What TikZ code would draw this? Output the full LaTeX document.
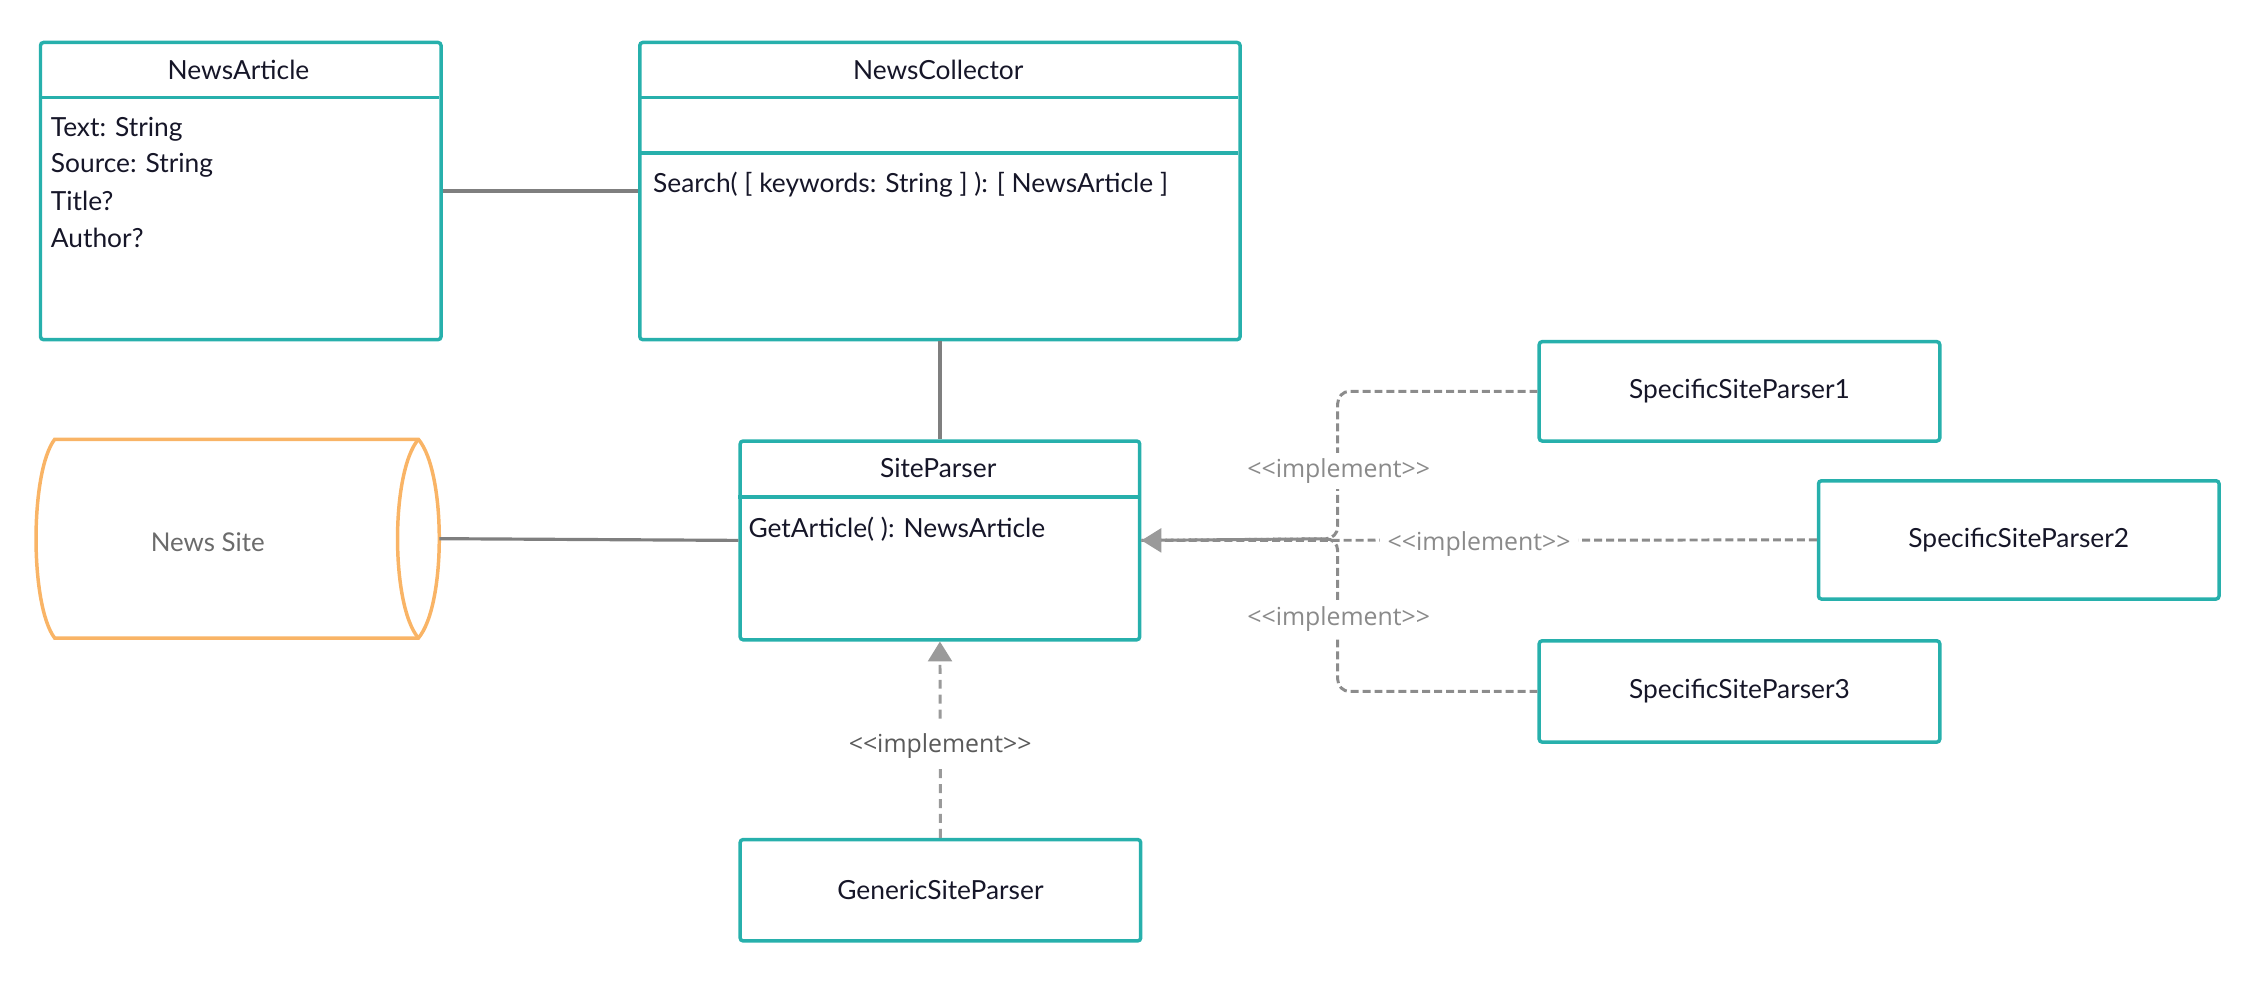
\documentclass[tikz,border=0pt]{standalone}
\usepackage{fontspec}
\setmainfont{Lato}
\newfontfamily\lblfont{Open Sans}
\usetikzlibrary{arrows.meta}
\definecolor{teal1}{HTML}{27B0AC}
\definecolor{orng}{HTML}{F9B466}
\definecolor{conn}{HTML}{7F7F7F}
\definecolor{dash1}{HTML}{8C8C8C}
\definecolor{dash2}{HTML}{9A9A9A}
\definecolor{txt}{HTML}{161628}
\definecolor{lblA}{HTML}{8A8A8A}
\definecolor{lblB}{HTML}{5A5A5A}
\newcommand{\impltxt}{{<}{<}implement{>}{>}}
\tikzset{
  classbox/.style={draw=teal1, line width=3.5pt, rounded corners=3pt, anchor=north west, inner sep=0pt},
  divider/.style={draw=teal1, line width=3.5pt},
  ttl/.style={text=txt, font=\fontsize{26.5}{31}\selectfont, inner sep=0pt},
  attr/.style={text=txt, font=\fontsize{26.5}{31}\selectfont, inner sep=0pt, anchor=west},
  assoc/.style={draw=conn, line width=3.2pt},
  impl/.style={draw=dash1, line width=3pt, dash pattern=on 8pt off 4pt},
  implb/.style={draw=dash2, line width=3pt, dash pattern=on 9pt off 6pt},
  lbl/.style={fill=white, text=lblA, font=\lblfont\fontsize{25}{30}\selectfont, inner xsep=8pt, inner ysep=6pt},
  lblb/.style={fill=white, text=lblB, font=\lblfont\fontsize{25}{30}\selectfont, inner xsep=8pt, inner ysep=10pt},
  tip/.style={-{Triangle[length=20pt,width=24pt,color=dash2]}}
}
\begin{document}
\begin{tikzpicture}[x=1pt,y=-1pt]
\useasboundingbox (0,0) rectangle (2274,987);

% NewsArticle
\node[classbox, minimum width=403pt, minimum height=299pt] (na) at (39,41) {};
\draw[divider] (39,98) -- (442,98);
\node[ttl] (naT) at (240,70) {NewsArticle};
\node[attr] (na1) at (51,130) {Text: String};
\node[attr] (na2) at (51,166) {Source: String};
\node[attr] (na3) at (51,202) {Title?};
\node[attr] (na4) at (51,239) {Author?};

% NewsCollector
\node[classbox, minimum width=604pt, minimum height=299pt] (nc) at (642,41) {};
\draw[divider] (642,98) -- (1246,98);
\draw[divider] (642,154) -- (1246,154);
\node[ttl] (ncT) at (944,70) {NewsCollector};
\node[attr] (nc1) at (657,186) {Search( [ keywords: String ] ): [ NewsArticle ]};

% SiteParser
\node[classbox, minimum width=402pt, minimum height=200pt] (sp) at (743,442) {};
\draw[divider] (743,500) -- (1145,500);
\node[ttl] (spT) at (944,471) {SiteParser};
\node[attr] (sp1) at (753,532) {GetArticle( ): NewsArticle};

% News Site
\draw[orng, line width=3.5pt] (55,442) -- (421,442)
  .. controls (449,475) and (449,609) .. (421,642)
  -- (55,642) .. controls (30,609) and (30,475) .. (55,442) -- cycle;
\draw[orng, line width=3.5pt] (421,442) .. controls (393,475) and (393,609) .. (421,642);
\node[text=lblB!90, font=\fontsize{26}{31}\selectfont, inner sep=0pt] (ns) at (209,546) {News Site};
\coordinate (nsE) at (442,542);

% Specific parsers
\node[classbox, minimum width=403pt, minimum height=100pt] (s1) at (1547,342) {};
\node[ttl] at (s1.center) {SpecificSiteParser1};
\node[classbox, minimum width=403pt, minimum height=119pt] (s2) at (1828,482) {};
\node[ttl] at (s2.center) {SpecificSiteParser2};
\node[classbox, minimum width=403pt, minimum height=102pt] (s3) at (1547,643) {};
\node[ttl] at (s3.center) {SpecificSiteParser3};
\node[classbox, minimum width=403pt, minimum height=102pt] (g) at (743,843) {};
\node[ttl] at (g.center) {GenericSiteParser};

% associations
\draw[assoc] (na.east) -- (nc.west);
\draw[assoc] (nc.south) -- (sp.north);
\draw[assoc] (nsE) -- (sp.west);

% implementations
\coordinate (j) at (1346,542);
\draw[impl, rounded corners=12pt] (s1.west) -| (j) -- (sp.east);
\draw[impl, rounded corners=12pt] (s3.west) -| (j) -- (sp.east);
\node[lbl] at (1347,474) {\impltxt};
\node[lbl] at (1347,623) {\impltxt};
\draw[impl, tip] (s2.west) -- node[lbl, pos=0.5, inner ysep=2pt, yshift=-4pt]{\impltxt} (sp.east);
\draw[implb, tip] (g.north) -- node[lblb, yshift=-6pt]{\impltxt} (sp.south);
\end{tikzpicture}
\end{document}
